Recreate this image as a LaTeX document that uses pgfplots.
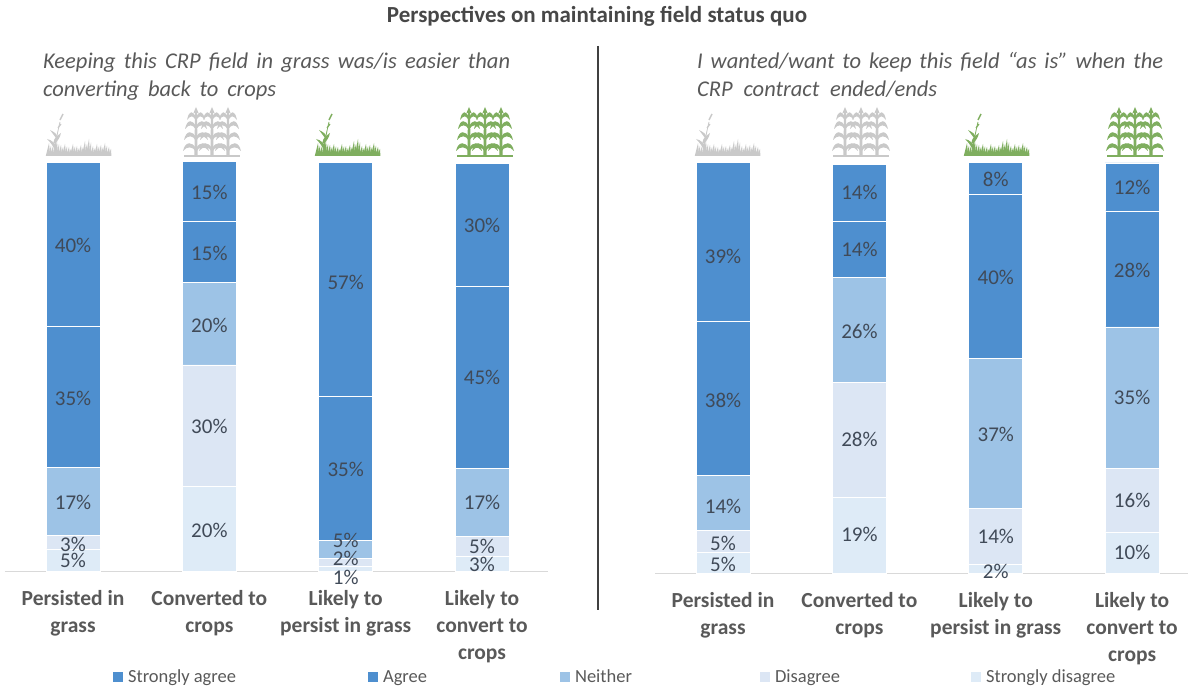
\documentclass[border=0pt]{standalone}
\usepackage{fontspec}
\setmainfont{Carlito}
\usepackage{pgfplots}
\pgfplotsset{compat=1.18}
\definecolor{sa}{HTML}{4E8FCF}
\definecolor{ag}{HTML}{4E8FCF}
\definecolor{ne}{HTML}{9DC3E6}
\definecolor{di}{HTML}{DCE6F4}
\definecolor{sd}{HTML}{DEEBF7}
\definecolor{txt}{HTML}{595959}
\definecolor{lab}{HTML}{404A58}
\definecolor{icg}{HTML}{C9C9C9}
\definecolor{icc}{HTML}{7FAE5F}
\pgfplotsset{
  panel/.style={
    scale only axis, ybar stacked, bar width=54pt, ymin=0, ymax=100,
    axis x line=bottom, axis y line=none, axis line style={draw=black!15,-},
    xtick={0,1,2,3}, major tick length=0pt, clip=false,
    xticklabels={{Persisted in\\grass},{Converted to\\crops},{Likely to\\persist in grass},{Likely to\\convert to\\crops}},
    xticklabel style={align=center,font=\fontsize{21.5}{27}\selectfont\bfseries,text=txt,yshift=-16pt},
    legend image code/.code={\fill[##1,draw=none] (0pt,-5pt) rectangle (10pt,5pt);},
  },
  seg/.style={fill=#1,draw=white,line width=0.9pt},
  labaxis/.style={scale only axis, hide axis, ymin=0, ymax=100, clip=false},
  labs/.style={only marks,mark=none,point meta=explicit symbolic,
    nodes near coords={\pgfplotspointmeta\%},
    nodes near coords align={center},
    every node near coord/.append style={font=\fontsize{21}{23}\selectfont,text=lab,anchor=center,inner sep=0pt}},
}
\newcommand{\grassicon}[3]{%
  \begin{scope}[shift={(#1,#2)},x=1pt,y=1pt]
    \fill[#3] (0,0) rectangle (64,1.6);
    \foreach \a/\h in {2/13,6/10,10/15,14/11,18/12,22/9,26/12,30/10,34/11,38/15,42/17,46/10,50/12,54/11,58/13,62/9}{
      \fill[#3] (\a-2.2,0) -- (\a+1,\h) -- (\a+2.2,0) -- cycle;
      \fill[#3] (\a,0) -- (\a+3,\h*0.8) -- (\a+3.4,0) -- cycle;}
    \draw[#3,line width=0.8pt] (8,2) .. controls (10,16) and (12,26) .. (14,34);
    \draw[#3,line width=1.4pt] (14,36) -- (17,42);
    \draw[#3,line width=1.2pt] (12,28) -- (15,32);
    \fill[#3] (9,6) .. controls (6,12) and (3,15) .. (1,17) .. controls (6,16) and (10,12) .. (11,8) -- cycle;
    \fill[#3] (9,12) .. controls (12,16) and (14,18) .. (15,23) .. controls (11,20) and (8,18) .. (7.6,14) -- cycle;
    \fill[#3] (10,18) .. controls (8,21) and (6,23) .. (4,26) .. controls (8,24) and (11,22) .. (11,20) -- cycle;
  \end{scope}}
\newcommand{\stalk}[3]{%
  \begin{scope}[shift={(#1,#2)},x=1pt,y=1pt]
    \fill[#3] (-1.6,0) -- (-1,47) -- (1,47) -- (1.6,0) -- cycle;
    \foreach \hh/\d in {8/13,19/12,30/11,39/9}{
      \fill[#3] (0,\hh) .. controls (-3,\hh+8) and (-\d+2,\hh+8) .. (-\d,\hh-2) .. controls (-\d+4,\hh+3) and (-3,\hh+3) .. (0,\hh-3) -- cycle;
      \fill[#3] (0,\hh) .. controls (3,\hh+8) and (\d-2,\hh+8) .. (\d,\hh-2) .. controls (\d-4,\hh+3) and (3,\hh+3) .. (0,\hh-3) -- cycle;}
    \fill[#3] (-2.5,44) -- (0,50) -- (2.5,44) -- cycle;
  \end{scope}}
\newcommand{\cornicon}[3]{%
  \fill[#3] (#1,#2) rectangle ++(56,1.6);
  \stalk{#1+12}{#2}{#3}\stalk{#1+28}{#2}{#3}\stalk{#1+44}{#2}{#3}}
\begin{document}
\begin{tikzpicture}[x=1pt,y=1pt]
\path[use as bounding box] (0,0) rectangle (1188,687);

\node[font=\fontsize{23}{26}\selectfont\bfseries,text=black!72,anchor=center] at (597,{687-16}) {Perspectives on maintaining field status quo};
\node[font=\fontsize{22.5}{24}\selectfont\itshape,text=txt,anchor=base west,inner sep=0pt] at (43,{687-69}) {\makebox[467pt][s]{Keeping this CRP field in grass was/is easier than}};
\node[font=\fontsize{22.5}{24}\selectfont\itshape,text=txt,anchor=base west,inner sep=0pt] at (43,{687-97}) {\makebox[233pt][s]{converting back to crops}};
\node[font=\fontsize{22.5}{24}\selectfont\itshape,text=txt,anchor=base west,inner sep=0pt] at (697,{687-69}) {\makebox[466pt][s]{I wanted/want to keep this field “as is” when the}};
\node[font=\fontsize{22.5}{24}\selectfont\itshape,text=txt,anchor=base west,inner sep=0pt] at (697,{687-97}) {\makebox[240pt][s]{CRP contract ended/ends}};
\draw[black!75,line width=2pt] (598,{687-46}) -- (598,{687-610});

\grassicon{46}{531}{icg}
\cornicon{184}{530}{icg}
\grassicon{315}{531}{icc}
\cornicon{457}{530}{icc}
\grassicon{695}{531}{icg}
\cornicon{833}{530}{icg}
\grassicon{964}{531}{icc}
\cornicon{1107}{530}{icc}

\begin{axis}[panel,at={(5pt,116pt)},anchor=south west,width=543pt,height=408pt,
  xmin=-0.499,xmax=3.484,
  legend style={at={(0.199,-0.2598)},anchor=west,draw=none,fill=none,inner sep=0pt,outer sep=0pt,
    legend columns=5,font=\fontsize{18.5}{20}\selectfont,text=txt,
    nodes={inner sep=0pt,outer sep=0pt},
    /tikz/every even column/.append style={column sep=0pt},
    /tikz/every odd column/.append style={column sep=5pt}},
  legend cell align=left, reverse legend]
\addplot[seg=sd] coordinates {(0,5.4) (1,20.6) (2,1.0) (3,3.6)};
\addlegendentry{\makebox[130pt][l]{Strongly disagree}}
\addplot[seg=di] coordinates {(0,3.2) (1,29.9) (2,2.0) (3,4.9)};
\addlegendentry{\makebox[196pt][l]{Disagree}}
\addplot[seg=ne] coordinates {(0,16.7) (1,20.1) (2,4.4) (3,16.7)};
\addlegendentry{\makebox[185pt][l]{Neither}}
\addplot[seg=ag] coordinates {(0,34.6) (1,15.0) (2,35.3) (3,44.6)};
\addlegendentry{\makebox[177pt][l]{Agree}}
\addplot[seg=sa] coordinates {(0,40.2) (1,14.7) (2,57.4) (3,30.1)};
\addlegendentry{\makebox[240pt][l]{Strongly agree}}
\end{axis}
\begin{axis}[labaxis,at={(5pt,116pt)},anchor=south west,width=543pt,height=408pt,xmin=-0.499,xmax=3.484]
\addplot[labs] table[x=x,y=y,meta=l] {
x y l
0 79.7 40
0 42.4 35
0 16.7 17
0 6.6 3
0 2.5 5
1 92.9 15
1 77.9 15
1 60.3 20
1 35.5 30
1 10.0 20
2 70.8 57
2 24.8 35
2 7.6 5
2 3.2 2
2 -1.5 1
3 84.6 30
3 47.5 45
3 16.7 17
3 6.1 5
3 1.5 3
};
\end{axis}

\begin{axis}[panel,at={(655pt,114pt)},anchor=south west,width=533pt,height=410pt,
  xmin=-0.499,xmax=3.41]
\addplot[seg=sd] coordinates {(0,4.9) (1,18.5) (2,2.0) (3,10.0)};
\addplot[seg=di] coordinates {(0,5.4) (1,28.0) (2,13.7) (3,15.4)};
\addplot[seg=ne] coordinates {(0,13.4) (1,25.6) (2,36.6) (3,34.6)};
\addplot[seg=ag] coordinates {(0,37.6) (1,13.7) (2,40.0) (3,28.3)};
\addplot[seg=sa] coordinates {(0,38.8) (1,13.9) (2,7.8) (3,11.7)};
\end{axis}
\begin{axis}[labaxis,at={(655pt,114pt)},anchor=south west,width=533pt,height=410pt,xmin=-0.499,xmax=3.41]
\addplot[labs] table[x=x,y=y,meta=l] {
x y l
0 77.3 39
0 42.2 38
0 16.3 14
0 7.3 5
0 2.2 5
1 92.7 14
1 78.8 14
1 59.0 26
1 32.7 28
1 9.3 19
2 95.9 8
2 72.0 40
2 33.9 37
2 8.8 14
2 0.5 2
3 94.1 12
3 73.9 28
3 42.7 35
3 17.6 16
3 4.9 10
};
\end{axis}
\end{tikzpicture}
\end{document}
